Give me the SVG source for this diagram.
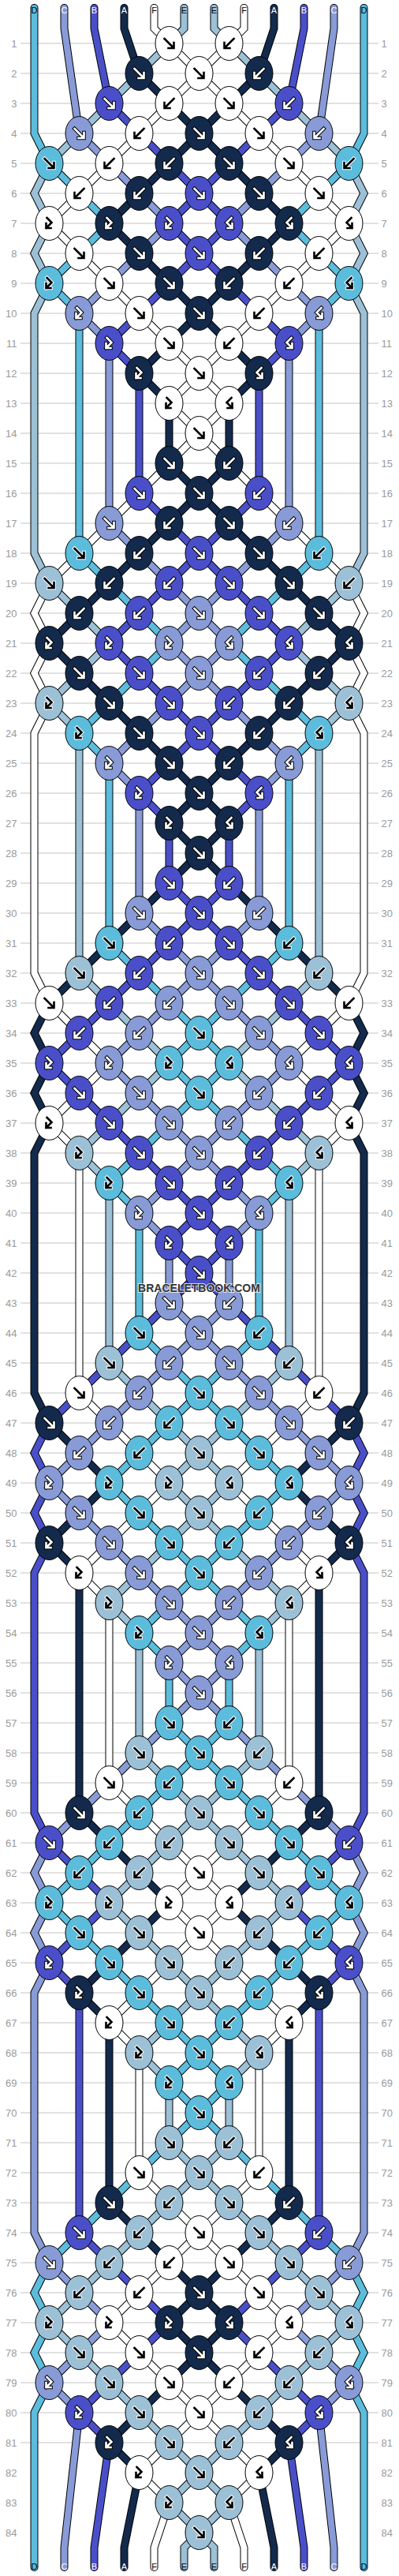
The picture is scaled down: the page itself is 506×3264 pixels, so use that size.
<svg xmlns="http://www.w3.org/2000/svg" width="506" height="3264" viewBox="0 0 506 3264">
<style>
.t{font-family:"Liberation Sans",Arial,sans-serif}
.rn{font-size:13px;fill:#9a9a9a}
.rl{text-anchor:end}
.rr{text-anchor:start}
.gl{fill:none;stroke:#c4c4c4;stroke-width:1}
.o{fill:none;stroke:#000;stroke-width:10;stroke-linecap:round;stroke-linejoin:miter}
.s{fill:none;stroke-width:8;stroke-linecap:round;stroke-linejoin:miter}
.g{fill:none;stroke-linecap:square;stroke-linejoin:miter}
.go1{stroke:#000;stroke-width:4.6}.gi1{stroke:#fff;stroke-width:2.6}
.go2{stroke:#fff;stroke-width:4.6}.gi2{stroke:#000;stroke-width:2.6}
.lb{font-size:11px;text-anchor:middle}
.wm{font-size:14px;font-weight:bold;text-anchor:middle;fill:#353535;stroke:#fff;stroke-width:2;stroke-opacity:.75;paint-order:stroke}
</style>
<defs>
<path id="pD" d="M43,10L43,93 43,169 62,207 100,245 138,283 100,321 62,359 100,397 100,701 138,739 176,777 214,815 176,853 138,891 100,929 138,967 138,1195 176,1233 214,1271 252,1309 214,1347 252,1385 214,1423 176,1461 138,1499 176,1537 176,1689 214,1727 252,1765 214,1803 176,1841 138,1879 176,1917 214,1955 252,1993 214,2031 176,2069 214,2107 214,2183 252,2221 214,2259 176,2297 138,2335 100,2373 62,2411 100,2449 138,2487 176,2525 214,2563 252,2601 214,2639 252,2677 214,2715 176,2753 138,2791 100,2829 62,2867 43,2905 62,2943 43,2981 62,3019 43,3057 43,3253"/>
<path id="pC" d="M81,10L81,36 100,169 138,207 176,245 214,283 176,321 138,359 100,397 138,435 138,663 176,701 214,739 252,777 214,815 252,853 214,891 176,929 138,967 176,1005 176,1157 214,1195 252,1233 214,1271 176,1309 138,1347 176,1385 214,1423 252,1461 214,1499 176,1537 214,1575 214,1651 252,1689 214,1727 176,1765 138,1803 100,1841 62,1879 100,1917 138,1955 176,1993 214,2031 252,2069 214,2107 252,2145 214,2183 176,2221 138,2259 100,2297 62,2335 43,2373 62,2411 43,2449 62,2487 43,2525 43,2829 62,2867 100,2905 138,2943 100,2981 62,3019 100,3057 81,3228 81,3253"/>
<path id="pB" d="M119,10L119,36 138,131 176,169 214,207 252,245 214,283 252,321 214,359 176,397 138,435 176,473 176,625 214,663 252,701 214,739 176,777 138,815 176,853 214,891 252,929 214,967 176,1005 214,1043 214,1119 252,1157 214,1195 176,1233 138,1271 100,1309 62,1347 100,1385 138,1423 176,1461 214,1499 252,1537 214,1575 252,1613 214,1651 176,1689 138,1727 100,1765 62,1803 43,1841 62,1879 43,1917 62,1955 43,1993 43,2297 62,2335 100,2373 138,2411 100,2449 62,2487 100,2525 100,2829 138,2867 176,2905 214,2943 176,2981 138,3019 100,3057 138,3095 119,3228 119,3253"/>
<path id="pA" d="M157,10L157,36 176,93 214,131 252,169 214,207 176,245 138,283 176,321 214,359 252,397 214,435 176,473 214,511 214,587 252,625 214,663 176,701 138,739 100,777 62,815 100,853 138,891 176,929 214,967 252,1005 214,1043 252,1081 214,1119 176,1157 138,1195 100,1233 62,1271 43,1309 62,1347 43,1385 62,1423 43,1461 43,1765 62,1803 100,1841 138,1879 100,1917 62,1955 100,1993 100,2297 138,2335 176,2373 214,2411 176,2449 138,2487 100,2525 138,2563 138,2791 176,2829 214,2867 252,2905 214,2943 252,2981 214,3019 176,3057 138,3095 176,3133 157,3228 157,3253"/>
<path id="pF" d="M195,10L195,36 214,55 252,93 214,131 176,169 138,207 100,245 62,283 100,321 138,359 176,397 214,435 252,473 214,511 252,549 214,587 176,625 138,663 100,701 62,739 43,777 62,815 43,853 62,891 43,929 43,1233 62,1271 100,1309 138,1347 100,1385 62,1423 100,1461 100,1765 138,1803 176,1841 214,1879 176,1917 138,1955 100,1993 138,2031 138,2259 176,2297 214,2335 252,2373 214,2411 252,2449 214,2487 176,2525 138,2563 176,2601 176,2753 214,2791 252,2829 214,2867 176,2905 138,2943 176,2981 214,3019 252,3057 214,3095 176,3133 214,3171 195,3228 195,3253"/>
<path id="pE" d="M233,10L233,36 214,55 176,93 138,131 100,169 62,207 43,245 62,283 43,321 62,359 43,397 43,701 62,739 100,777 138,815 100,853 62,891 100,929 100,1233 138,1271 176,1309 214,1347 176,1385 138,1423 100,1461 138,1499 138,1727 176,1765 214,1803 252,1841 214,1879 252,1917 214,1955 176,1993 138,2031 176,2069 176,2221 214,2259 252,2297 214,2335 176,2373 138,2411 176,2449 214,2487 252,2525 214,2563 176,2601 214,2639 214,2715 252,2753 214,2791 176,2829 138,2867 100,2905 62,2943 100,2981 138,3019 176,3057 214,3095 252,3133 214,3171 252,3209 233,3228 233,3253"/>
<path id="gF" d="M-6,-6L5,5M-1,6H6V-1"/>
<path id="gB" d="M6,-6L-5,5M1,6H-6V-1"/>
<path id="gL" d="M-3,-7L3,-1L-4,6M2,6H-4V0"/>
<path id="gR" d="M3,-7L-3,-1L4,6M-2,6H4V0"/>
<g id="wF" class="g"><use href="#gF" class="go1"/><use href="#gF" class="gi1"/></g>
<g id="wB" class="g"><use href="#gB" class="go1"/><use href="#gB" class="gi1"/></g>
<g id="wL" class="g"><use href="#gL" class="go1"/><use href="#gL" class="gi1"/></g>
<g id="wR" class="g"><use href="#gR" class="go1"/><use href="#gR" class="gi1"/></g>
<g id="bF" class="g"><use href="#gF" class="go2"/><use href="#gF" class="gi2"/></g>
<g id="bB" class="g"><use href="#gB" class="go2"/><use href="#gB" class="gi2"/></g>
<g id="bL" class="g"><use href="#gL" class="go2"/><use href="#gL" class="gi2"/></g>
<g id="bR" class="g"><use href="#gR" class="go2"/><use href="#gR" class="gi2"/></g>
<ellipse id="eA" rx="17.5" ry="21.5" fill="#132a4c" stroke="#000"/>
<ellipse id="eB" rx="17.5" ry="21.5" fill="#4a4fc9" stroke="#000"/>
<ellipse id="eC" rx="17.5" ry="21.5" fill="#889bd7" stroke="#000"/>
<ellipse id="eD" rx="17.5" ry="21.5" fill="#5cbcdc" stroke="#000"/>
<ellipse id="eE" rx="17.5" ry="21.5" fill="#9cc0d6" stroke="#000"/>
<ellipse id="eF" rx="17.5" ry="21.5" fill="#ffffff" stroke="#000"/>
<g id="AF"><use href="#eA"/><use href="#wF"/></g><g id="AB"><use href="#eA"/><use href="#wB"/></g><g id="AL"><use href="#eA"/><use href="#wL"/></g><g id="AR"><use href="#eA"/><use href="#wR"/></g>
<g id="BF"><use href="#eB"/><use href="#wF"/></g><g id="BB"><use href="#eB"/><use href="#wB"/></g><g id="BL"><use href="#eB"/><use href="#wL"/></g><g id="BR"><use href="#eB"/><use href="#wR"/></g>
<g id="CF"><use href="#eC"/><use href="#wF"/></g><g id="CB"><use href="#eC"/><use href="#wB"/></g><g id="CL"><use href="#eC"/><use href="#wL"/></g><g id="CR"><use href="#eC"/><use href="#wR"/></g>
<g id="DF"><use href="#eD"/><use href="#bF"/></g><g id="DB"><use href="#eD"/><use href="#bB"/></g><g id="DL"><use href="#eD"/><use href="#bL"/></g><g id="DR"><use href="#eD"/><use href="#bR"/></g>
<g id="EF"><use href="#eE"/><use href="#bF"/></g><g id="EB"><use href="#eE"/><use href="#bB"/></g><g id="EL"><use href="#eE"/><use href="#bL"/></g><g id="ER"><use href="#eE"/><use href="#bR"/></g>
<g id="FF"><use href="#eF"/><use href="#bF"/></g><g id="FB"><use href="#eF"/><use href="#bB"/></g><g id="FL"><use href="#eF"/><use href="#bL"/></g><g id="FR"><use href="#eF"/><use href="#bR"/></g>
</defs>
<rect width="506" height="3264" fill="#fff"/>
<g id="grid">
<path class="gl" d="M26,55h454m-454,38h454m-454,38h454m-454,38h454m-454,38h454m-454,38h454m-454,38h454m-454,38h454m-454,38h454m-454,38h454m-454,38h454m-454,38h454m-454,38h454m-454,38h454m-454,38h454m-454,38h454m-454,38h454m-454,38h454m-454,38h454m-454,38h454m-454,38h454m-454,38h454m-454,38h454m-454,38h454m-454,38h454m-454,38h454m-454,38h454m-454,38h454m-454,38h454m-454,38h454m-454,38h454m-454,38h454m-454,38h454m-454,38h454m-454,38h454m-454,38h454m-454,38h454m-454,38h454m-454,38h454m-454,38h454m-454,38h454m-454,38h454m-454,38h454m-454,38h454m-454,38h454m-454,38h454m-454,38h454m-454,38h454m-454,38h454m-454,38h454m-454,38h454m-454,38h454m-454,38h454m-454,38h454m-454,38h454m-454,38h454m-454,38h454m-454,38h454m-454,38h454m-454,38h454m-454,38h454m-454,38h454m-454,38h454m-454,38h454m-454,38h454m-454,38h454m-454,38h454m-454,38h454m-454,38h454m-454,38h454m-454,38h454m-454,38h454m-454,38h454m-454,38h454m-454,38h454m-454,38h454m-454,38h454m-454,38h454m-454,38h454m-454,38h454m-454,38h454"/>
<g class="t rn rl" transform="translate(0,4.7)">
<text x="21.5" y="55">1</text><text x="21.5" y="93">2</text><text x="21.5" y="131">3</text><text x="21.5" y="169">4</text><text x="21.5" y="207">5</text><text x="21.5" y="245">6</text><text x="21.5" y="283">7</text><text x="21.5" y="321">8</text><text x="21.5" y="359">9</text><text x="21.5" y="397">10</text><text x="21.5" y="435">11</text><text x="21.5" y="473">12</text><text x="21.5" y="511">13</text><text x="21.5" y="549">14</text><text x="21.5" y="587">15</text><text x="21.5" y="625">16</text><text x="21.5" y="663">17</text><text x="21.5" y="701">18</text><text x="21.5" y="739">19</text><text x="21.5" y="777">20</text><text x="21.5" y="815">21</text><text x="21.5" y="853">22</text><text x="21.5" y="891">23</text><text x="21.5" y="929">24</text><text x="21.5" y="967">25</text><text x="21.5" y="1005">26</text><text x="21.5" y="1043">27</text><text x="21.5" y="1081">28</text><text x="21.5" y="1119">29</text><text x="21.5" y="1157">30</text><text x="21.5" y="1195">31</text><text x="21.5" y="1233">32</text><text x="21.5" y="1271">33</text><text x="21.5" y="1309">34</text><text x="21.5" y="1347">35</text><text x="21.5" y="1385">36</text><text x="21.5" y="1423">37</text><text x="21.5" y="1461">38</text><text x="21.5" y="1499">39</text><text x="21.5" y="1537">40</text><text x="21.5" y="1575">41</text><text x="21.5" y="1613">42</text><text x="21.5" y="1651">43</text><text x="21.5" y="1689">44</text><text x="21.5" y="1727">45</text><text x="21.5" y="1765">46</text><text x="21.5" y="1803">47</text><text x="21.5" y="1841">48</text><text x="21.5" y="1879">49</text><text x="21.5" y="1917">50</text><text x="21.5" y="1955">51</text><text x="21.5" y="1993">52</text><text x="21.5" y="2031">53</text><text x="21.5" y="2069">54</text><text x="21.5" y="2107">55</text><text x="21.5" y="2145">56</text><text x="21.5" y="2183">57</text><text x="21.5" y="2221">58</text><text x="21.5" y="2259">59</text><text x="21.5" y="2297">60</text><text x="21.5" y="2335">61</text><text x="21.5" y="2373">62</text><text x="21.5" y="2411">63</text><text x="21.5" y="2449">64</text><text x="21.5" y="2487">65</text><text x="21.5" y="2525">66</text><text x="21.5" y="2563">67</text><text x="21.5" y="2601">68</text><text x="21.5" y="2639">69</text><text x="21.5" y="2677">70</text><text x="21.5" y="2715">71</text><text x="21.5" y="2753">72</text><text x="21.5" y="2791">73</text><text x="21.5" y="2829">74</text><text x="21.5" y="2867">75</text><text x="21.5" y="2905">76</text><text x="21.5" y="2943">77</text><text x="21.5" y="2981">78</text><text x="21.5" y="3019">79</text><text x="21.5" y="3057">80</text><text x="21.5" y="3095">81</text><text x="21.5" y="3133">82</text><text x="21.5" y="3171">83</text><text x="21.5" y="3209">84</text>
</g>
<g class="t rn rr" transform="translate(0,4.7)">
<text x="483.5" y="55">1</text><text x="483.5" y="93">2</text><text x="483.5" y="131">3</text><text x="483.5" y="169">4</text><text x="483.5" y="207">5</text><text x="483.5" y="245">6</text><text x="483.5" y="283">7</text><text x="483.5" y="321">8</text><text x="483.5" y="359">9</text><text x="483.5" y="397">10</text><text x="483.5" y="435">11</text><text x="483.5" y="473">12</text><text x="483.5" y="511">13</text><text x="483.5" y="549">14</text><text x="483.5" y="587">15</text><text x="483.5" y="625">16</text><text x="483.5" y="663">17</text><text x="483.5" y="701">18</text><text x="483.5" y="739">19</text><text x="483.5" y="777">20</text><text x="483.5" y="815">21</text><text x="483.5" y="853">22</text><text x="483.5" y="891">23</text><text x="483.5" y="929">24</text><text x="483.5" y="967">25</text><text x="483.5" y="1005">26</text><text x="483.5" y="1043">27</text><text x="483.5" y="1081">28</text><text x="483.5" y="1119">29</text><text x="483.5" y="1157">30</text><text x="483.5" y="1195">31</text><text x="483.5" y="1233">32</text><text x="483.5" y="1271">33</text><text x="483.5" y="1309">34</text><text x="483.5" y="1347">35</text><text x="483.5" y="1385">36</text><text x="483.5" y="1423">37</text><text x="483.5" y="1461">38</text><text x="483.5" y="1499">39</text><text x="483.5" y="1537">40</text><text x="483.5" y="1575">41</text><text x="483.5" y="1613">42</text><text x="483.5" y="1651">43</text><text x="483.5" y="1689">44</text><text x="483.5" y="1727">45</text><text x="483.5" y="1765">46</text><text x="483.5" y="1803">47</text><text x="483.5" y="1841">48</text><text x="483.5" y="1879">49</text><text x="483.5" y="1917">50</text><text x="483.5" y="1955">51</text><text x="483.5" y="1993">52</text><text x="483.5" y="2031">53</text><text x="483.5" y="2069">54</text><text x="483.5" y="2107">55</text><text x="483.5" y="2145">56</text><text x="483.5" y="2183">57</text><text x="483.5" y="2221">58</text><text x="483.5" y="2259">59</text><text x="483.5" y="2297">60</text><text x="483.5" y="2335">61</text><text x="483.5" y="2373">62</text><text x="483.5" y="2411">63</text><text x="483.5" y="2449">64</text><text x="483.5" y="2487">65</text><text x="483.5" y="2525">66</text><text x="483.5" y="2563">67</text><text x="483.5" y="2601">68</text><text x="483.5" y="2639">69</text><text x="483.5" y="2677">70</text><text x="483.5" y="2715">71</text><text x="483.5" y="2753">72</text><text x="483.5" y="2791">73</text><text x="483.5" y="2829">74</text><text x="483.5" y="2867">75</text><text x="483.5" y="2905">76</text><text x="483.5" y="2943">77</text><text x="483.5" y="2981">78</text><text x="483.5" y="3019">79</text><text x="483.5" y="3057">80</text><text x="483.5" y="3095">81</text><text x="483.5" y="3133">82</text><text x="483.5" y="3171">83</text><text x="483.5" y="3209">84</text>
</g>
</g>
<g id="connectors" transform="translate(0.5,0)">
<g class="o"><use href="#pD"/><use href="#pC"/><use href="#pB"/><use href="#pA"/><use href="#pF"/><use href="#pE"/>
<g transform="matrix(-1 0 0 1 504 0)"><use href="#pD"/><use href="#pC"/><use href="#pB"/><use href="#pA"/><use href="#pF"/><use href="#pE"/></g></g>
<g class="s"><use href="#pD" stroke="#5cbcdc"/><use href="#pC" stroke="#889bd7"/><use href="#pB" stroke="#4a4fc9"/><use href="#pA" stroke="#132a4c"/><use href="#pF" stroke="#ffffff"/><use href="#pE" stroke="#9cc0d6"/>
<g transform="matrix(-1 0 0 1 504 0)"><use href="#pD" stroke="#5cbcdc"/><use href="#pC" stroke="#889bd7"/><use href="#pB" stroke="#4a4fc9"/><use href="#pA" stroke="#132a4c"/><use href="#pF" stroke="#ffffff"/><use href="#pE" stroke="#9cc0d6"/></g></g>
</g>
<g id="knots" transform="translate(0.5,0)">
<use id="r1a" href="#FF" x="214" y="55"/><use id="r1b" href="#FB" x="290" y="55"/>
<use id="r2a" href="#AF" x="176" y="93"/><use id="r2b" href="#FF" x="252" y="93"/><use id="r2c" href="#AB" x="328" y="93"/>
<use id="r3a" href="#BF" x="138" y="131"/><use id="r3b" href="#FB" x="214" y="131"/><use id="r3c" href="#FF" x="290" y="131"/><use id="r3d" href="#BB" x="366" y="131"/>
<use id="r4a" href="#CF" x="100" y="169"/><use id="r4b" href="#FB" x="176" y="169"/><use id="r4c" href="#AF" x="252" y="169"/><use id="r4d" href="#FF" x="328" y="169"/><use id="r4e" href="#CB" x="404" y="169"/>
<use id="r5a" href="#DF" x="62" y="207"/><use id="r5b" href="#FB" x="138" y="207"/><use id="r5c" href="#AB" x="214" y="207"/><use id="r5d" href="#AF" x="290" y="207"/><use id="r5e" href="#FF" x="366" y="207"/><use id="r5f" href="#DB" x="442" y="207"/>
<use id="r6a" href="#FB" x="100" y="245"/><use id="r6b" href="#AB" x="176" y="245"/><use id="r6c" href="#BF" x="252" y="245"/><use id="r6d" href="#AF" x="328" y="245"/><use id="r6e" href="#FF" x="404" y="245"/>
<use id="r7a" href="#FL" x="62" y="283"/><use id="r7b" href="#AL" x="138" y="283"/><use id="r7c" href="#BL" x="214" y="283"/><use id="r7d" href="#BR" x="290" y="283"/><use id="r7e" href="#AR" x="366" y="283"/><use id="r7f" href="#FR" x="442" y="283"/>
<use id="r8a" href="#FF" x="100" y="321"/><use id="r8b" href="#AF" x="176" y="321"/><use id="r8c" href="#BF" x="252" y="321"/><use id="r8d" href="#AB" x="328" y="321"/><use id="r8e" href="#FB" x="404" y="321"/>
<use id="r9a" href="#DL" x="62" y="359"/><use id="r9b" href="#FF" x="138" y="359"/><use id="r9c" href="#AF" x="214" y="359"/><use id="r9d" href="#AB" x="290" y="359"/><use id="r9e" href="#FB" x="366" y="359"/><use id="r9f" href="#DR" x="442" y="359"/>
<use id="r10a" href="#CL" x="100" y="397"/><use id="r10b" href="#FF" x="176" y="397"/><use id="r10c" href="#AF" x="252" y="397"/><use id="r10d" href="#FB" x="328" y="397"/><use id="r10e" href="#CR" x="404" y="397"/>
<use id="r11a" href="#BL" x="138" y="435"/><use id="r11b" href="#FF" x="214" y="435"/><use id="r11c" href="#FB" x="290" y="435"/><use id="r11d" href="#BR" x="366" y="435"/>
<use id="r12a" href="#AL" x="176" y="473"/><use id="r12b" href="#FF" x="252" y="473"/><use id="r12c" href="#AR" x="328" y="473"/>
<use id="r13a" href="#FL" x="214" y="511"/><use id="r13b" href="#FR" x="290" y="511"/>
<use id="r14a" href="#FF" x="252" y="549"/>
<use id="r15a" href="#AF" x="214" y="587"/><use id="r15b" href="#AB" x="290" y="587"/>
<use id="r16a" href="#BF" x="176" y="625"/><use id="r16b" href="#AF" x="252" y="625"/><use id="r16c" href="#BB" x="328" y="625"/>
<use id="r17a" href="#CF" x="138" y="663"/><use id="r17b" href="#AB" x="214" y="663"/><use id="r17c" href="#AF" x="290" y="663"/><use id="r17d" href="#CB" x="366" y="663"/>
<use id="r18a" href="#DF" x="100" y="701"/><use id="r18b" href="#AB" x="176" y="701"/><use id="r18c" href="#BF" x="252" y="701"/><use id="r18d" href="#AF" x="328" y="701"/><use id="r18e" href="#DB" x="404" y="701"/>
<use id="r19a" href="#EF" x="62" y="739"/><use id="r19b" href="#AB" x="138" y="739"/><use id="r19c" href="#BB" x="214" y="739"/><use id="r19d" href="#BF" x="290" y="739"/><use id="r19e" href="#AF" x="366" y="739"/><use id="r19f" href="#EB" x="442" y="739"/>
<use id="r20a" href="#AB" x="100" y="777"/><use id="r20b" href="#BB" x="176" y="777"/><use id="r20c" href="#CF" x="252" y="777"/><use id="r20d" href="#BF" x="328" y="777"/><use id="r20e" href="#AF" x="404" y="777"/>
<use id="r21a" href="#AL" x="62" y="815"/><use id="r21b" href="#BL" x="138" y="815"/><use id="r21c" href="#CL" x="214" y="815"/><use id="r21d" href="#CR" x="290" y="815"/><use id="r21e" href="#BR" x="366" y="815"/><use id="r21f" href="#AR" x="442" y="815"/>
<use id="r22a" href="#AF" x="100" y="853"/><use id="r22b" href="#BF" x="176" y="853"/><use id="r22c" href="#CF" x="252" y="853"/><use id="r22d" href="#BB" x="328" y="853"/><use id="r22e" href="#AB" x="404" y="853"/>
<use id="r23a" href="#EL" x="62" y="891"/><use id="r23b" href="#AF" x="138" y="891"/><use id="r23c" href="#BF" x="214" y="891"/><use id="r23d" href="#BB" x="290" y="891"/><use id="r23e" href="#AB" x="366" y="891"/><use id="r23f" href="#ER" x="442" y="891"/>
<use id="r24a" href="#DL" x="100" y="929"/><use id="r24b" href="#AF" x="176" y="929"/><use id="r24c" href="#BF" x="252" y="929"/><use id="r24d" href="#AB" x="328" y="929"/><use id="r24e" href="#DR" x="404" y="929"/>
<use id="r25a" href="#CL" x="138" y="967"/><use id="r25b" href="#AF" x="214" y="967"/><use id="r25c" href="#AB" x="290" y="967"/><use id="r25d" href="#CR" x="366" y="967"/>
<use id="r26a" href="#BL" x="176" y="1005"/><use id="r26b" href="#AF" x="252" y="1005"/><use id="r26c" href="#BR" x="328" y="1005"/>
<use id="r27a" href="#AL" x="214" y="1043"/><use id="r27b" href="#AR" x="290" y="1043"/>
<use id="r28a" href="#AF" x="252" y="1081"/>
<use id="r29a" href="#BF" x="214" y="1119"/><use id="r29b" href="#BB" x="290" y="1119"/>
<use id="r30a" href="#CF" x="176" y="1157"/><use id="r30b" href="#BF" x="252" y="1157"/><use id="r30c" href="#CB" x="328" y="1157"/>
<use id="r31a" href="#DF" x="138" y="1195"/><use id="r31b" href="#BB" x="214" y="1195"/><use id="r31c" href="#BF" x="290" y="1195"/><use id="r31d" href="#DB" x="366" y="1195"/>
<use id="r32a" href="#EF" x="100" y="1233"/><use id="r32b" href="#BB" x="176" y="1233"/><use id="r32c" href="#CF" x="252" y="1233"/><use id="r32d" href="#BF" x="328" y="1233"/><use id="r32e" href="#EB" x="404" y="1233"/>
<use id="r33a" href="#FF" x="62" y="1271"/><use id="r33b" href="#BB" x="138" y="1271"/><use id="r33c" href="#CB" x="214" y="1271"/><use id="r33d" href="#CF" x="290" y="1271"/><use id="r33e" href="#BF" x="366" y="1271"/><use id="r33f" href="#FB" x="442" y="1271"/>
<use id="r34a" href="#BB" x="100" y="1309"/><use id="r34b" href="#CB" x="176" y="1309"/><use id="r34c" href="#DF" x="252" y="1309"/><use id="r34d" href="#CF" x="328" y="1309"/><use id="r34e" href="#BF" x="404" y="1309"/>
<use id="r35a" href="#BL" x="62" y="1347"/><use id="r35b" href="#CL" x="138" y="1347"/><use id="r35c" href="#DL" x="214" y="1347"/><use id="r35d" href="#DR" x="290" y="1347"/><use id="r35e" href="#CR" x="366" y="1347"/><use id="r35f" href="#BR" x="442" y="1347"/>
<use id="r36a" href="#BF" x="100" y="1385"/><use id="r36b" href="#CF" x="176" y="1385"/><use id="r36c" href="#DF" x="252" y="1385"/><use id="r36d" href="#CB" x="328" y="1385"/><use id="r36e" href="#BB" x="404" y="1385"/>
<use id="r37a" href="#FL" x="62" y="1423"/><use id="r37b" href="#BF" x="138" y="1423"/><use id="r37c" href="#CF" x="214" y="1423"/><use id="r37d" href="#CB" x="290" y="1423"/><use id="r37e" href="#BB" x="366" y="1423"/><use id="r37f" href="#FR" x="442" y="1423"/>
<use id="r38a" href="#EL" x="100" y="1461"/><use id="r38b" href="#BF" x="176" y="1461"/><use id="r38c" href="#CF" x="252" y="1461"/><use id="r38d" href="#BB" x="328" y="1461"/><use id="r38e" href="#ER" x="404" y="1461"/>
<use id="r39a" href="#DL" x="138" y="1499"/><use id="r39b" href="#BF" x="214" y="1499"/><use id="r39c" href="#BB" x="290" y="1499"/><use id="r39d" href="#DR" x="366" y="1499"/>
<use id="r40a" href="#CL" x="176" y="1537"/><use id="r40b" href="#BF" x="252" y="1537"/><use id="r40c" href="#CR" x="328" y="1537"/>
<use id="r41a" href="#BL" x="214" y="1575"/><use id="r41b" href="#BR" x="290" y="1575"/>
<use id="r42a" href="#BF" x="252" y="1613"/>
<use id="r43a" href="#CF" x="214" y="1651"/><use id="r43b" href="#CB" x="290" y="1651"/>
<use id="r44a" href="#DF" x="176" y="1689"/><use id="r44b" href="#CF" x="252" y="1689"/><use id="r44c" href="#DB" x="328" y="1689"/>
<use id="r45a" href="#EF" x="138" y="1727"/><use id="r45b" href="#CB" x="214" y="1727"/><use id="r45c" href="#CF" x="290" y="1727"/><use id="r45d" href="#EB" x="366" y="1727"/>
<use id="r46a" href="#FF" x="100" y="1765"/><use id="r46b" href="#CB" x="176" y="1765"/><use id="r46c" href="#DF" x="252" y="1765"/><use id="r46d" href="#CF" x="328" y="1765"/><use id="r46e" href="#FB" x="404" y="1765"/>
<use id="r47a" href="#AF" x="62" y="1803"/><use id="r47b" href="#CB" x="138" y="1803"/><use id="r47c" href="#DB" x="214" y="1803"/><use id="r47d" href="#DF" x="290" y="1803"/><use id="r47e" href="#CF" x="366" y="1803"/><use id="r47f" href="#AB" x="442" y="1803"/>
<use id="r48a" href="#CB" x="100" y="1841"/><use id="r48b" href="#DB" x="176" y="1841"/><use id="r48c" href="#EF" x="252" y="1841"/><use id="r48d" href="#DF" x="328" y="1841"/><use id="r48e" href="#CF" x="404" y="1841"/>
<use id="r49a" href="#CL" x="62" y="1879"/><use id="r49b" href="#DL" x="138" y="1879"/><use id="r49c" href="#EL" x="214" y="1879"/><use id="r49d" href="#ER" x="290" y="1879"/><use id="r49e" href="#DR" x="366" y="1879"/><use id="r49f" href="#CR" x="442" y="1879"/>
<use id="r50a" href="#CF" x="100" y="1917"/><use id="r50b" href="#DF" x="176" y="1917"/><use id="r50c" href="#EF" x="252" y="1917"/><use id="r50d" href="#DB" x="328" y="1917"/><use id="r50e" href="#CB" x="404" y="1917"/>
<use id="r51a" href="#AL" x="62" y="1955"/><use id="r51b" href="#CF" x="138" y="1955"/><use id="r51c" href="#DF" x="214" y="1955"/><use id="r51d" href="#DB" x="290" y="1955"/><use id="r51e" href="#CB" x="366" y="1955"/><use id="r51f" href="#AR" x="442" y="1955"/>
<use id="r52a" href="#FL" x="100" y="1993"/><use id="r52b" href="#CF" x="176" y="1993"/><use id="r52c" href="#DF" x="252" y="1993"/><use id="r52d" href="#CB" x="328" y="1993"/><use id="r52e" href="#FR" x="404" y="1993"/>
<use id="r53a" href="#EL" x="138" y="2031"/><use id="r53b" href="#CF" x="214" y="2031"/><use id="r53c" href="#CB" x="290" y="2031"/><use id="r53d" href="#ER" x="366" y="2031"/>
<use id="r54a" href="#DL" x="176" y="2069"/><use id="r54b" href="#CF" x="252" y="2069"/><use id="r54c" href="#DR" x="328" y="2069"/>
<use id="r55a" href="#CL" x="214" y="2107"/><use id="r55b" href="#CR" x="290" y="2107"/>
<use id="r56a" href="#CF" x="252" y="2145"/>
<use id="r57a" href="#DF" x="214" y="2183"/><use id="r57b" href="#DB" x="290" y="2183"/>
<use id="r58a" href="#EF" x="176" y="2221"/><use id="r58b" href="#DF" x="252" y="2221"/><use id="r58c" href="#EB" x="328" y="2221"/>
<use id="r59a" href="#FF" x="138" y="2259"/><use id="r59b" href="#DB" x="214" y="2259"/><use id="r59c" href="#DF" x="290" y="2259"/><use id="r59d" href="#FB" x="366" y="2259"/>
<use id="r60a" href="#AF" x="100" y="2297"/><use id="r60b" href="#DB" x="176" y="2297"/><use id="r60c" href="#EF" x="252" y="2297"/><use id="r60d" href="#DF" x="328" y="2297"/><use id="r60e" href="#AB" x="404" y="2297"/>
<use id="r61a" href="#BF" x="62" y="2335"/><use id="r61b" href="#DB" x="138" y="2335"/><use id="r61c" href="#EB" x="214" y="2335"/><use id="r61d" href="#EF" x="290" y="2335"/><use id="r61e" href="#DF" x="366" y="2335"/><use id="r61f" href="#BB" x="442" y="2335"/>
<use id="r62a" href="#DB" x="100" y="2373"/><use id="r62b" href="#EB" x="176" y="2373"/><use id="r62c" href="#FF" x="252" y="2373"/><use id="r62d" href="#EF" x="328" y="2373"/><use id="r62e" href="#DF" x="404" y="2373"/>
<use id="r63a" href="#DL" x="62" y="2411"/><use id="r63b" href="#EL" x="138" y="2411"/><use id="r63c" href="#FL" x="214" y="2411"/><use id="r63d" href="#FR" x="290" y="2411"/><use id="r63e" href="#ER" x="366" y="2411"/><use id="r63f" href="#DR" x="442" y="2411"/>
<use id="r64a" href="#DF" x="100" y="2449"/><use id="r64b" href="#EF" x="176" y="2449"/><use id="r64c" href="#FF" x="252" y="2449"/><use id="r64d" href="#EB" x="328" y="2449"/><use id="r64e" href="#DB" x="404" y="2449"/>
<use id="r65a" href="#BL" x="62" y="2487"/><use id="r65b" href="#DF" x="138" y="2487"/><use id="r65c" href="#EF" x="214" y="2487"/><use id="r65d" href="#EB" x="290" y="2487"/><use id="r65e" href="#DB" x="366" y="2487"/><use id="r65f" href="#BR" x="442" y="2487"/>
<use id="r66a" href="#AL" x="100" y="2525"/><use id="r66b" href="#DF" x="176" y="2525"/><use id="r66c" href="#EF" x="252" y="2525"/><use id="r66d" href="#DB" x="328" y="2525"/><use id="r66e" href="#AR" x="404" y="2525"/>
<use id="r67a" href="#FL" x="138" y="2563"/><use id="r67b" href="#DF" x="214" y="2563"/><use id="r67c" href="#DB" x="290" y="2563"/><use id="r67d" href="#FR" x="366" y="2563"/>
<use id="r68a" href="#EL" x="176" y="2601"/><use id="r68b" href="#DF" x="252" y="2601"/><use id="r68c" href="#ER" x="328" y="2601"/>
<use id="r69a" href="#DL" x="214" y="2639"/><use id="r69b" href="#DR" x="290" y="2639"/>
<use id="r70a" href="#DF" x="252" y="2677"/>
<use id="r71a" href="#EF" x="214" y="2715"/><use id="r71b" href="#EB" x="290" y="2715"/>
<use id="r72a" href="#FF" x="176" y="2753"/><use id="r72b" href="#EF" x="252" y="2753"/><use id="r72c" href="#FB" x="328" y="2753"/>
<use id="r73a" href="#AF" x="138" y="2791"/><use id="r73b" href="#EB" x="214" y="2791"/><use id="r73c" href="#EF" x="290" y="2791"/><use id="r73d" href="#AB" x="366" y="2791"/>
<use id="r74a" href="#BF" x="100" y="2829"/><use id="r74b" href="#EB" x="176" y="2829"/><use id="r74c" href="#FF" x="252" y="2829"/><use id="r74d" href="#EF" x="328" y="2829"/><use id="r74e" href="#BB" x="404" y="2829"/>
<use id="r75a" href="#CF" x="62" y="2867"/><use id="r75b" href="#EB" x="138" y="2867"/><use id="r75c" href="#FB" x="214" y="2867"/><use id="r75d" href="#FF" x="290" y="2867"/><use id="r75e" href="#EF" x="366" y="2867"/><use id="r75f" href="#CB" x="442" y="2867"/>
<use id="r76a" href="#EB" x="100" y="2905"/><use id="r76b" href="#FB" x="176" y="2905"/><use id="r76c" href="#AF" x="252" y="2905"/><use id="r76d" href="#FF" x="328" y="2905"/><use id="r76e" href="#EF" x="404" y="2905"/>
<use id="r77a" href="#EL" x="62" y="2943"/><use id="r77b" href="#FL" x="138" y="2943"/><use id="r77c" href="#AL" x="214" y="2943"/><use id="r77d" href="#AR" x="290" y="2943"/><use id="r77e" href="#FR" x="366" y="2943"/><use id="r77f" href="#ER" x="442" y="2943"/>
<use id="r78a" href="#EF" x="100" y="2981"/><use id="r78b" href="#FF" x="176" y="2981"/><use id="r78c" href="#AF" x="252" y="2981"/><use id="r78d" href="#FB" x="328" y="2981"/><use id="r78e" href="#EB" x="404" y="2981"/>
<use id="r79a" href="#CL" x="62" y="3019"/><use id="r79b" href="#EF" x="138" y="3019"/><use id="r79c" href="#FF" x="214" y="3019"/><use id="r79d" href="#FB" x="290" y="3019"/><use id="r79e" href="#EB" x="366" y="3019"/><use id="r79f" href="#CR" x="442" y="3019"/>
<use id="r80a" href="#BL" x="100" y="3057"/><use id="r80b" href="#EF" x="176" y="3057"/><use id="r80c" href="#FF" x="252" y="3057"/><use id="r80d" href="#EB" x="328" y="3057"/><use id="r80e" href="#BR" x="404" y="3057"/>
<use id="r81a" href="#AL" x="138" y="3095"/><use id="r81b" href="#EF" x="214" y="3095"/><use id="r81c" href="#EB" x="290" y="3095"/><use id="r81d" href="#AR" x="366" y="3095"/>
<use id="r82a" href="#FL" x="176" y="3133"/><use id="r82b" href="#EF" x="252" y="3133"/><use id="r82c" href="#FR" x="328" y="3133"/>
<use id="r83a" href="#EL" x="214" y="3171"/><use id="r83b" href="#ER" x="290" y="3171"/>
<use id="r84a" href="#EF" x="252" y="3209"/>
</g>
<g id="labels" class="t lb">
<text x="43.5" y="17" fill="#000">D</text><text x="81.5" y="17" fill="#fff">C</text><text x="119.5" y="17" fill="#fff">B</text><text x="157.5" y="17" fill="#fff">A</text><text x="195.5" y="17" fill="#000">F</text><text x="233.5" y="17" fill="#000">E</text><text x="271.5" y="17" fill="#000">E</text><text x="309.5" y="17" fill="#000">F</text><text x="347.5" y="17" fill="#fff">A</text><text x="385.5" y="17" fill="#fff">B</text><text x="423.5" y="17" fill="#fff">C</text><text x="461.5" y="17" fill="#000">D</text>
<text x="43.5" y="3256" fill="#000">D</text><text x="81.5" y="3256" fill="#fff">C</text><text x="119.5" y="3256" fill="#fff">B</text><text x="157.5" y="3256" fill="#fff">A</text><text x="195.5" y="3256" fill="#000">F</text><text x="233.5" y="3256" fill="#000">E</text><text x="271.5" y="3256" fill="#000">E</text><text x="309.5" y="3256" fill="#000">F</text><text x="347.5" y="3256" fill="#fff">A</text><text x="385.5" y="3256" fill="#fff">B</text><text x="423.5" y="3256" fill="#fff">C</text><text x="461.5" y="3256" fill="#000">D</text>
</g>
<text id="watermark" class="t wm" x="252.5" y="1637">BRACELETBOOK.COM</text>
</svg>
